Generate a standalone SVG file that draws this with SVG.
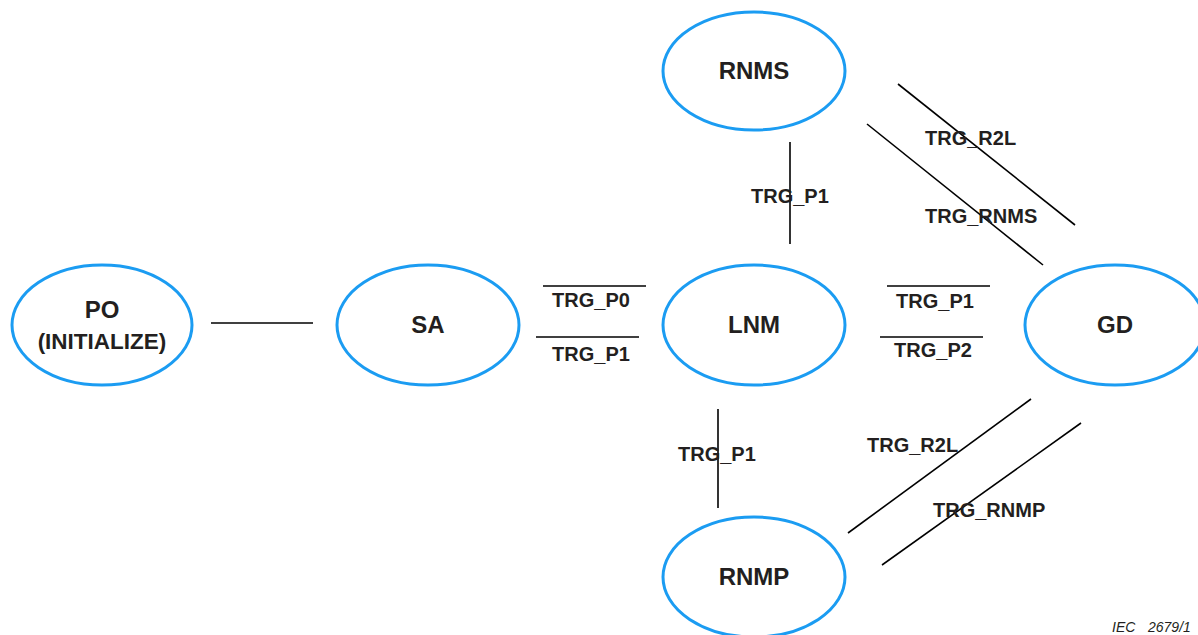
<svg xmlns="http://www.w3.org/2000/svg" width="1198" height="635" viewBox="0 0 1198 635">
<style>
.node{fill:#ffffff;stroke:#1b9cf2;stroke-width:3}
.nt{font-family:"Liberation Sans",Arial,sans-serif;font-weight:bold;font-size:24px;fill:#231f20;text-anchor:middle}
.nt.sm{font-size:22.5px}
.lb{font-family:"Liberation Sans",Arial,sans-serif;font-weight:bold;font-size:20px;fill:#231f20}
.c{stroke:#000000;stroke-width:1.6;fill:none}
.iec{font-family:"Liberation Sans",Arial,sans-serif;font-style:italic;font-size:14px;fill:#231f20}
</style>
<rect width="1198" height="635" fill="#ffffff"/>
<g id="connectors">
<line class="c" x1="211" y1="323" x2="313" y2="323"/>
<line class="c" x1="543" y1="286" x2="646" y2="286"/>
<line class="c" x1="536" y1="337" x2="639" y2="337"/>
<line class="c" x1="887" y1="286" x2="990" y2="286"/>
<line class="c" x1="880" y1="337" x2="983" y2="337"/>
<line class="c" x1="790" y1="142" x2="790" y2="244"/>
<line class="c" x1="718" y1="409" x2="718" y2="508"/>
<line class="c" x1="898" y1="84" x2="1075" y2="225"/>
<line class="c" x1="867" y1="124" x2="1043" y2="265"/>
<line class="c" x1="848" y1="533" x2="1031" y2="399"/>
<line class="c" x1="882" y1="565" x2="1081" y2="423"/>
</g>
<g id="labels">
<text class="lb" x="591" y="307" text-anchor="middle">TRG_P0</text>
<text class="lb" x="591" y="361" text-anchor="middle">TRG_P1</text>
<text class="lb" x="935" y="308" text-anchor="middle">TRG_P1</text>
<text class="lb" x="933" y="357" text-anchor="middle">TRG_P2</text>
<text class="lb" x="751" y="203">TRG_P1</text>
<text class="lb" x="678" y="461">TRG_P1</text>
<text class="lb" x="925" y="145">TRG_R2L</text>
<text class="lb" x="925" y="223">TRG_RNMS</text>
<text class="lb" x="867" y="452">TRG_R2L</text>
<text class="lb" x="933" y="517">TRG_RNMP</text>
</g>
<g id="PO">
<ellipse class="node" cx="102" cy="325" rx="90" ry="60"/>
<text class="nt" x="102" y="318">PO</text>
<text class="nt sm" x="102" y="349">(INITIALIZE)</text>
</g>
<g id="SA">
<ellipse class="node" cx="428" cy="325" rx="91" ry="60"/>
<text class="nt" x="428" y="333">SA</text>
</g>
<g id="LNM">
<ellipse class="node" cx="754" cy="325" rx="91" ry="60"/>
<text class="nt" x="754" y="333">LNM</text>
</g>
<g id="RNMS">
<ellipse class="node" cx="754" cy="71" rx="91" ry="59"/>
<text class="nt" x="754" y="79">RNMS</text>
</g>
<g id="RNMP">
<ellipse class="node" cx="754" cy="577" rx="91" ry="60"/>
<text class="nt" x="754" y="585">RNMP</text>
</g>
<g id="GD">
<ellipse class="node" cx="1115" cy="325" rx="90" ry="60"/>
<text class="nt" x="1115" y="333">GD</text>
</g>
<text class="iec" x="1112" y="632">IEC<tspan x="1148">2679/1</tspan></text>
</svg>
